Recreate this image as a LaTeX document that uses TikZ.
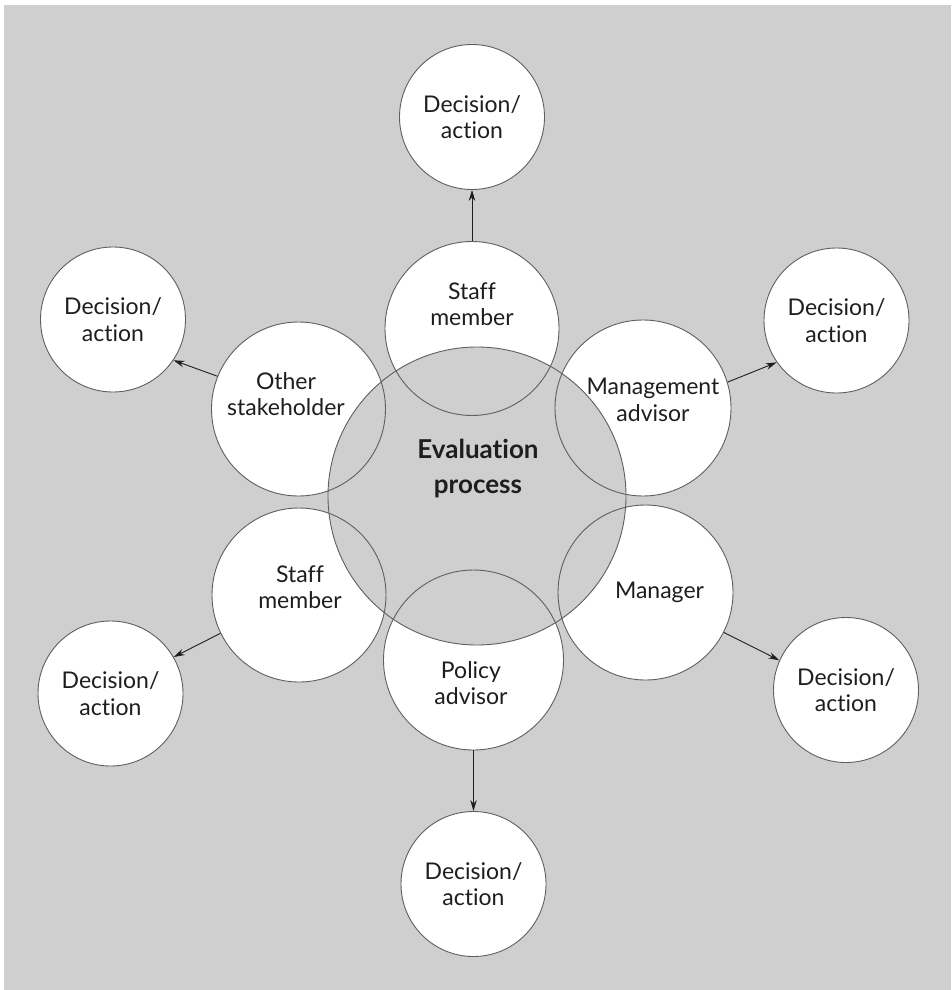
\documentclass[tikz,border=0pt]{standalone}
\usepackage{fontspec}
\setmainfont{Lato}[Ligatures=NoCommon]
\usetikzlibrary{arrows.meta}
\definecolor{bggray}{RGB}{207,207,207}
\definecolor{ringc}{RGB}{95,95,95}
\definecolor{inkc}{RGB}{30,30,30}
\begin{document}
\begin{tikzpicture}[x=1pt,y=-1pt,
  ring/.style={circle,draw=ringc,line width=0.9pt,inner sep=0pt,minimum size=#1},
  lbl/.style={align=center,font=\fontsize{23}{26.5}\selectfont,text=inkc,inner sep=0pt},
  ctrlbl/.style={align=center,font=\bfseries\fontsize{26}{35}\selectfont,text=inkc,inner sep=0pt},
  conn/.style={draw=inkc,line width=0.9pt,-{Stealth[length=11pt,width=6.5pt]}}]
\useasboundingbox (0,0) rectangle (951,990);
\fill[white] (0,0) rectangle (951,990);
\fill[bggray] (4,5) rectangle (951,990);
% centres
\coordinate (pC) at (477,496);
\coordinate (pT) at (472,328.5);
\coordinate (pUR) at (643,408);
\coordinate (pLR) at (645.5,592.5);
\coordinate (pB) at (473.5,660);
\coordinate (pLL) at (299,595);
\coordinate (pUL) at (298.5,409);
% white fills of the actor circles
\fill[white] (pT) circle (87);
\fill[white] (pUR) circle (88);
\fill[white] (pLR) circle (87.5);
\fill[white] (pB) circle (90);
\fill[white] (pLL) circle (87);
\fill[white] (pUL) circle (87);
% central circle covers the overlaps
\fill[bggray] (pC) circle (149);
% outlines
\node[ring=298pt] (C) at (pC) {};
\node[ring=174pt] (sT) at (pT) {};
\node[ring=176pt] (sUR) at (pUR) {};
\node[ring=175pt] (sLR) at (pLR) {};
\node[ring=180pt] (sB) at (pB) {};
\node[ring=174pt] (sLL) at (pLL) {};
\node[ring=174pt] (sUL) at (pUL) {};
% decision circles
\node[ring=145pt,fill=white] (dT) at (472,117) {};
\node[ring=145pt,fill=white] (dUL) at (113,319.5) {};
\node[ring=145pt,fill=white] (dUR) at (836.5,320.5) {};
\node[ring=145pt,fill=white] (dLL) at (110.5,693.5) {};
\node[ring=145pt,fill=white] (dLR) at (846,690) {};
\node[ring=145pt,fill=white] (dB) at (473.5,884) {};
% labels
\node[ctrlbl] (tC) at (478,469) {Evaluation\\process};
\node[lbl] (tT) at (472,304) {Staff\\member};
\node[lbl] (tUR) at (653,400) {Management\\advisor};
\node[lbl] (tLR) at (659.5,592) {Manager};
\node[lbl] (tB) at (471,683) {Policy\\advisor};
\node[lbl] (tLL) at (300,587) {Staff\\member};
\node[lbl] (tUL) at (286,394) {Other\\stakeholder};
\node[lbl] (tdT) at (dT) {Decision/\\action};
\node[lbl] (tdUL) at (dUL) {Decision/\\action};
\node[lbl] (tdUR) at (dUR) {Decision/\\action};
\node[lbl] (tdLL) at (dLL) {Decision/\\action};
\node[lbl] (tdLR) at (dLR) {Decision/\\action};
\node[lbl] (tdB) at (dB) {Decision/\\action};
% connectors
\draw[conn] (sT.north) -- (dT.south);
\draw[conn] (sUL.158) -- (dUL.-34);
\draw[conn] (sUR.17) -- (dUR.215);
\draw[conn] (sLL.206) -- (dLL.30);
\draw[conn] (sLR.-27) -- (dLR.156);
\draw[conn] (sB.south) -- (dB.north);
\end{tikzpicture}
\end{document}
